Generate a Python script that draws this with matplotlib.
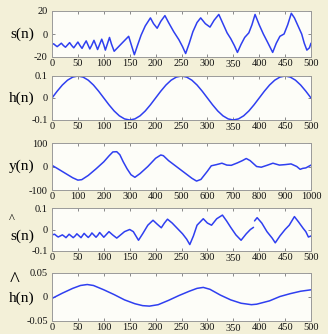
import matplotlib
matplotlib.use("Agg")
import matplotlib.pyplot as plt
import numpy as np

# ---- signal s(n): key samples (n, value)
s_n = [0, 3, 7, 10, 14, 18, 22, 26, 30, 34, 38, 42, 46, 50, 54, 58, 62, 66, 70, 73, 77,
       81, 85, 88, 92, 96, 100, 103, 107, 111, 115, 120, 135, 148,
       159, 165, 172, 180, 190, 196, 203, 210, 218, 225, 235, 245, 252, 258, 265, 272,
       280, 287, 296, 305, 313, 322, 330, 338, 345, 352, 358, 365, 372, 380, 386, 392,
       400, 408, 416, 426, 433, 440, 448, 455, 462, 468, 476, 482, 487, 492, 497, 500]
s_val = [-9, -8.5, -10, -11, -9.5, -8, -10, -11.5, -9.5, -7.5, -10, -12, -9.5, -7, -10,
         -12.5, -9, -6, -10, -13, -9.5, -5.5, -10, -13.5, -9, -4.5, -9.5, -14, -8.5,
         -3, -9, -15, -8, -2, -18, -10, -1, 7, 14, 9, 5, 11, 16, 10, 2, -5, -11, -17, -8, 2,
         10, 14, 9, 6, 12, 17, 9, 1, -4, -10, -16, -9, -3, 1, 8, 17, 8, 0, -7, -16, -8,
         -2, 0, 8, 18, 14, 6, 0, -8, -14, -12, -8]

# ---- channel h(n)
h_n = list(range(0, 501, 10))
h_val = [0, .031, .059, .081, .095, .1, .095, .081, .059, .031,
         0, -.031, -.059, -.081, -.095, -.1, -.095, -.081, -.059, -.031,
         0, .031, .059, .081, .095, .1, .095, .081, .059, .031,
         0, -.031, -.059, -.081, -.095, -.1, -.095, -.081, -.059, -.031,
         0, .031, .059, .081, .095, .1, .095, .081, .059, .031, 0]

# ---- observation y(n)
y_n = [0, 20, 50, 80, 100, 115, 140, 170, 200, 220, 235, 250, 262, 275, 290, 305, 320,
       340, 370, 400, 420, 430, 450, 480, 510, 540, 558, 575, 600, 615, 635, 656, 675,
       692, 715, 735, 750, 765, 790, 808, 830, 853, 878, 900, 923, 945, 958, 968, 980, 1000]
y_val = [5, -8, -28, -48, -58, -56, -38, -10, 20, 45, 62, 63, 50, 20, -10, -35, -46,
         -30, 0, 35, 49, 46, 25, 0, -25, -50, -62, -55, -20, 3, 8, 14, 6, 5, 15, 25, 34,
         25, 0, -3, 5, 14, 6, 8, 11, 0, -12, -8, -6, 6]

# ---- estimated source s^(n)  (NaN marks the break in the trace)
sh_n = [0, 5, 9, 12, 16, 20, 24, 27, 30, 33, 37, 41, 45, 48, 52, 56, 59, 62, 66, 70, 74,
        77, 81, 85, 89, 92, 96, 100, 105, 110, 117, 125, 140, 150,
        157, 167, 175, 185, 195, 203, 211, 217, 223, 232, 242, 252, 260, 266, 273, 280,
        292, 300, 308, 318, 329, 337, 345, 355, 365, 375, 383, 389, 390, 391, 396, 405,
        415, 425, 431, 440, 450, 458, 468, 476, 485, 490, 495, 500]
sh_val = [-.025, -.022, -.03, -.035, -.03, -.025, -.032, -.038, -.03, -.022, -.03, -.038,
          -.029, -.02, -.029, -.038, -.028, -.018, -.028, -.037, -.027, -.016, -.026,
          -.036, -.025, -.014, -.025, -.036, -.023, -.01, -.025, -.04, -.01, .0,
          -.01, -.05, -.02, .02, .043,
          .025, .008, .03, .048, .03, .005, -.02, -.045, -.07, -.03, .02, .05, .03, .02,
          .05, .067, .04, .01, -.025, -.05, -.02, .0, .01, np.nan, .04, .055, .03, -.01,
          -.04, -.062, -.03, .0, .02, .06, .035, .005, -.01, -.035, -.03]

# ---- estimated channel h^(n)
hh_n = [0, 20, 40, 55, 68, 80, 100, 120, 140, 160, 175, 188, 205, 225, 245, 265, 280,
        292, 305, 325, 345, 365, 385, 395, 420, 440, 460, 480, 500]
hh_val = [-.003, .008, .018, .024, .026, .024, .015, .005, -.006, -.014, -.018, -.019,
          -.016, -.007, .003, .012, .018, .020, .016, .004, -.006, -.013, -.016, -.015,
          -.008, .001, .007, .012, .015]

x500 = list(range(0, 501, 50))
x1000 = list(range(0, 1001, 100))

plt.rcParams['axes.unicode_minus'] = False
SERIF = ['Liberation Serif', 'DejaVu Serif']
BG = '#f3f0d8'
FACE = '#fdfdf8'
LINE = '#2f3ff0'
FRAME = '#9a9a9a'

W, H = 328, 334
fig = plt.figure(figsize=(W / 100, H / 100), dpi=100, facecolor=BG)

panels = [
    # top, bottom (px), n, values, ylim, yticks, yticklabels, xticks, label, hat
    (11, 57, s_n, s_val, (-20, 20), [-20, 0, 20], ['-20', '0', '20'], x500, 's(n)', None),
    (76, 120, h_n, h_val, (-0.1, 0.1), [-0.1, 0, 0.1], ['-0.1', '0', '0.1'], x500, 'h(n)', None),
    (143, 190, y_n, y_val, (-100, 100), [-100, 0, 100], ['-100', '0', '100'], x1000, 'y(n)', None),
    (208, 251, sh_n, sh_val, (-0.1, 0.1), [-0.1, 0, 0.1], ['-0.1', '0', '0.1'], x500, 's(n)', 'small'),
    (273, 321, hh_n, hh_val, (-0.05, 0.05), [-0.05, 0, 0.05], ['-0.05', '0', '0.05'], x500, 'h(n)', 'wide'),
]

left, right = 52, 311
for top, bot, xn, yv, ylim, yt, ytl, xt, lab, hat in panels:
    ax = fig.add_axes([left / W, 1 - bot / H, (right - left) / W, (bot - top) / H])
    ax.set_facecolor(FACE)
    ax.plot(xn, yv, color=LINE, lw=1.1, solid_capstyle='round')
    ax.set_xlim(xt[0], xt[-1])
    ax.set_ylim(*ylim)
    ax.set_xticks(xt)
    ax.set_xticklabels([str(v) for v in xt], family=SERIF, fontsize=7.5)
    ax.set_yticks(yt)
    ax.set_yticklabels(ytl, family=SERIF, fontsize=7.5)
    ax.tick_params(direction='in', length=2.5, width=0.6, color='#777777',
                   top=True, right=True, pad=1.2, labelcolor='#111111')
    ax.tick_params(axis='y', pad=3)
    for sp in ax.spines.values():
        sp.set_color(FRAME)
        sp.set_linewidth(0.7)
    # the "350" tick label sits slightly lower than its neighbours
    for v, tick in zip(xt, ax.xaxis.get_major_ticks()):
        if v == 350:
            tick.set_pad(2.4)

    cy = 1 - (top + bot) / 2 / H
    if hat is None:
        fig.text(22 / W, cy, lab, family=SERIF, fontsize=11, ha='center', va='center')
    elif hat == 'small':
        fig.text(22 / W, cy - 7 / H, lab, family=SERIF, fontsize=11, ha='center', va='center')
        fig.text(12 / W, cy + 4 / H, '^', family=SERIF, fontsize=9, ha='center', va='bottom')
    else:
        fig.text(22 / W, cy - 1 / H, lab, family=SERIF, fontsize=11, ha='center', va='center')
        fig.text(15 / W, cy + 6 / H, '^', family=SERIF, fontsize=15, ha='center', va='bottom')

fig.savefig('out.png', dpi=100, facecolor=BG)
